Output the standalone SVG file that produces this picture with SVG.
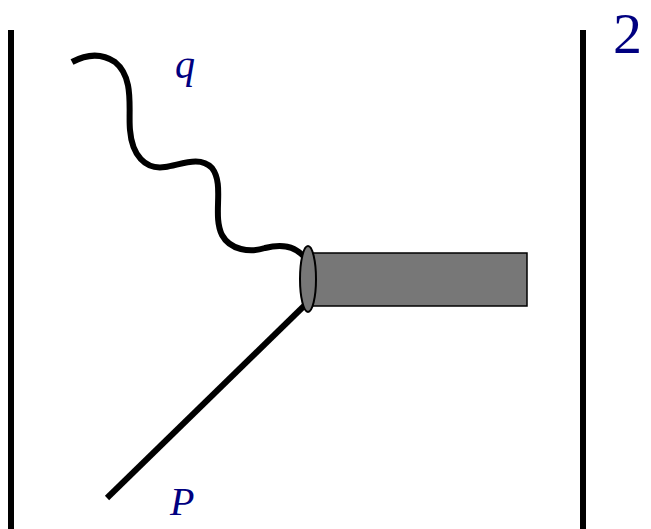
<svg xmlns="http://www.w3.org/2000/svg" width="651" height="529" viewBox="0 0 651 529">
<style>
.ln{fill:none;stroke:#000;stroke-width:6}
.lbl{font-family:"Liberation Serif",serif;fill:#000080}
</style>
<rect width="651" height="529" fill="#fff"/>
<g id="connectors">
<path class="ln" d="M72,62 C85,55 100,52 115,62 C135,78 128,110 130,130 C132,155 145,170 165,167 C180,165 200,155 212,168 C225,185 212,215 222,235 C230,250 250,253 265,248 C280,244 295,245 305,258"/>
<line class="ln" x1="305" y1="305" x2="107" y2="498"/>
</g>
<g id="bars">
<line class="ln" x1="11" y1="30" x2="11" y2="529"/>
<line class="ln" x1="583" y1="30" x2="583" y2="529"/>
</g>
<g id="blob">
<rect x="308" y="253" width="219" height="53" fill="#777" stroke="#000" stroke-width="1.5"/>
<ellipse cx="308" cy="279" rx="8" ry="33" fill="#777" stroke="#000" stroke-width="2"/>
</g>
<text class="lbl" x="175" y="78" font-size="40" font-style="italic">q</text>
<text class="lbl" x="170" y="515" font-size="40" font-style="italic">P</text>
<text class="lbl" x="613" y="53" font-size="58">2</text>
</svg>
